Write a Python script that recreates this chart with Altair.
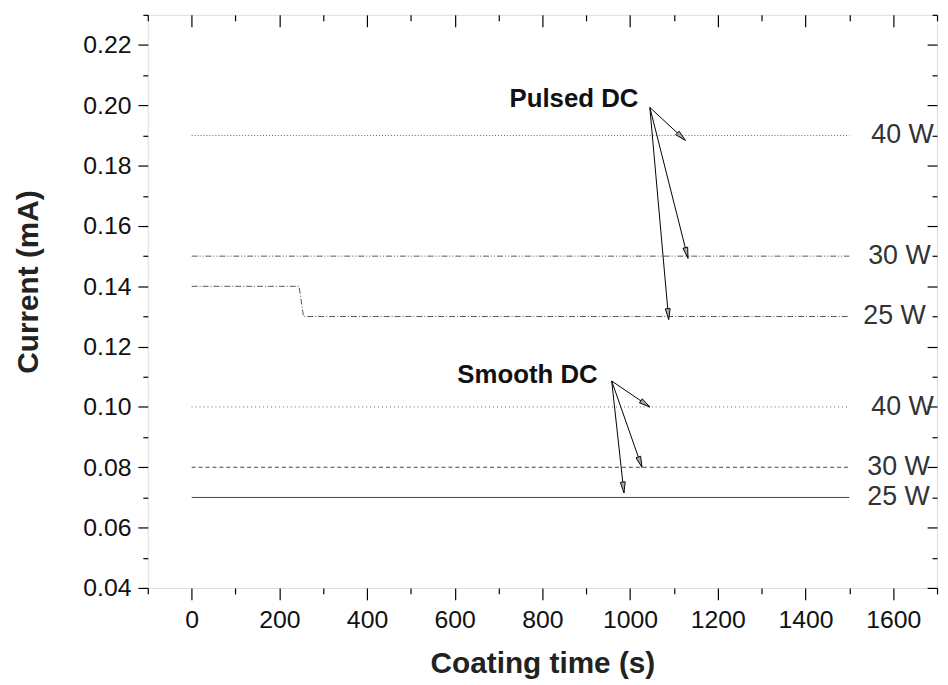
import math
import altair as alt
import pandas as pd

# ---------------- data ----------------
# Pulsed DC
p40_t = [0, 1500]
p40_i = [0.19, 0.19]
p30_t = [0, 1500]
p30_i = [0.15, 0.15]
p25_t = [0, 245, 255, 1500]
p25_i = [0.14, 0.14, 0.13, 0.13]
# Smooth DC
s40_t = [0, 1500]
s40_i = [0.10, 0.10]
s30_t = [0, 1500]
s30_i = [0.08, 0.08]
s25_t = [0, 1500]
s25_i = [0.07, 0.07]

# right-hand power labels
lab_text = ["40 W", "30 W", "25 W", "40 W", "30 W", "25 W"]
lab_t = [1550, 1543, 1532, 1550, 1541, 1541]
lab_i = [0.19, 0.15, 0.13, 0.10, 0.08, 0.07]

# group annotations
ann_text = ["Pulsed DC", "Smooth DC"]
ann_t = [725, 606]
ann_i = [0.1993, 0.108]

# arrows (start -> end)
arr_t1 = [1045, 1045, 1045, 958, 958, 958]
arr_i1 = [0.1993, 0.1993, 0.1993, 0.1086, 0.1086, 0.1086]
arr_t2 = [1126, 1132, 1088, 1045, 1027, 986]
arr_i2 = [0.1884, 0.1493, 0.129, 0.1000, 0.0800, 0.0715]

# axes
x_domain = [-100, 1700]
y_domain = [0.04, 0.23]
x_major = [0, 200, 400, 600, 800, 1000, 1200, 1400, 1600]
x_minor = [-100, 100, 300, 500, 700, 900, 1100, 1300, 1500, 1700]
y_major = [0.04, 0.06, 0.08, 0.10, 0.12, 0.14, 0.16, 0.18, 0.20, 0.22]
y_minor = [0.05, 0.07, 0.09, 0.11, 0.13, 0.15, 0.17, 0.19, 0.21, 0.23]

# ---------------- layout ----------------
W, H = 796, 578
xs = alt.Scale(domain=x_domain, nice=False, zero=False)
ys = alt.Scale(domain=y_domain, nice=False, zero=False)
LABEL_FONT = "Liberation Sans"
TITLE_FONT = "Liberation Sans"


def line_layer(t, i, color, dash=None):
    df = pd.DataFrame({"t": t, "i": i})
    kw = dict(color=color, strokeWidth=1)
    if dash is not None:
        kw["strokeDash"] = dash
    return alt.Chart(df).mark_line(**kw).encode(
        x=alt.X("t:Q", scale=xs, axis=None),
        y=alt.Y("i:Q", scale=ys, axis=None),
    )


lines = [
    line_layer(p40_t, p40_i, "#666", [1, 2]),
    line_layer(p30_t, p30_i, "#555", [6, 2, 1, 2, 1, 2]),
    line_layer(p25_t, p25_i, "#555", [6, 2, 1, 2]),
    line_layer(s40_t, s40_i, "#666", [1, 3]),
    line_layer(s30_t, s30_i, "#444", [4, 3]),
    line_layer(s25_t, s25_i, "#444"),
]

common_tick = dict(domain=False, grid=False, tickColor="black", tickWidth=1.2)

ax_x_main = alt.Axis(orient="bottom", values=x_major, format="d", tickSize=12,
                     labelFont=LABEL_FONT, labelFontSize=25, labelColor="#111",
                     labelPadding=8, labelOverlap=False, labelFlush=False,
                     title="Coating time (s)", titleFont=TITLE_FONT,
                     titleFontSize=30, titleFontWeight="bold", titleColor="#222",
                     titleY=85, titleBaseline="alphabetic", **common_tick)
ax_x_minor = alt.Axis(orient="bottom", values=x_minor, labels=False, tickSize=6,
                      title=None, **common_tick)
ax_x_top = alt.Axis(orient="bottom", offset=-H, values=x_major, labels=False,
                    tickSize=12, title=None, **common_tick)
ax_x_top_minor = alt.Axis(orient="bottom", offset=-H, values=x_minor, labels=False,
                          tickSize=6, title=None, **common_tick)

ax_y_main = alt.Axis(orient="left", values=y_major, format=".2f", tickSize=10,
                     labelFont=LABEL_FONT, labelFontSize=25, labelColor="#111",
                     labelPadding=7, labelOverlap=False, labelFlush=False,
                     title="Current (mA)", titleFont=TITLE_FONT,
                     titleFontSize=30, titleFontWeight="bold", titleColor="#222",
                     titleAngle=270, titleX=-111, titleY=269,
                     titleAlign="center", titleBaseline="alphabetic", **common_tick)
ax_y_minor = alt.Axis(orient="left", values=y_minor, labels=False, tickSize=5,
                      title=None, **common_tick)
ax_y_right = alt.Axis(orient="left", offset=-W, values=y_major, labels=False,
                      tickSize=10, title=None, **common_tick)
ax_y_right_minor = alt.Axis(orient="left", offset=-W, values=y_minor, labels=False,
                            tickSize=5, title=None, **common_tick)

dummy = pd.DataFrame({"t": [0], "i": [0.1]})


def axis_layer(xa, ya):
    return alt.Chart(dummy).mark_point(opacity=0).encode(
        x=alt.X("t:Q", scale=xs, axis=xa),
        y=alt.Y("i:Q", scale=ys, axis=ya),
    )


axes = [
    axis_layer(ax_x_main, ax_y_main),
    axis_layer(ax_x_minor, ax_y_minor),
    axis_layer(ax_x_top, ax_y_right),
    axis_layer(ax_x_top_minor, ax_y_right_minor),
]

labels = alt.Chart(pd.DataFrame({"t": lab_t, "i": lab_i, "s": lab_text})).mark_text(
    align="left", baseline="middle", font=LABEL_FONT, fontSize=27, color="#333"
).encode(
    x=alt.X("t:Q", scale=xs, axis=None),
    y=alt.Y("i:Q", scale=ys, axis=None),
    text="s:N",
)

annots = alt.Chart(pd.DataFrame({"t": ann_t, "i": ann_i, "s": ann_text})).mark_text(
    align="left", baseline="alphabetic", font=LABEL_FONT, fontSize=26,
    fontWeight="bold", color="#111"
).encode(
    x=alt.X("t:Q", scale=xs, axis=None),
    y=alt.Y("i:Q", scale=ys, axis=None),
    text="s:N",
)

# arrow head angles from the pixel direction of each arrow
kx = W / (x_domain[1] - x_domain[0])
ky = H / (y_domain[1] - y_domain[0])
angles = []
for a, b, c, d in zip(arr_t1, arr_i1, arr_t2, arr_i2):
    dxp = (c - a) * kx
    dyp = -(d - b) * ky
    angles.append(math.degrees(math.atan2(dxp, -dyp)) % 360)

arr_df = pd.DataFrame({"t1": arr_t1, "i1": arr_i1, "t2": arr_t2, "i2": arr_i2,
                       "ang": angles})

arrow_lines = alt.Chart(arr_df).mark_rule(color="black", strokeWidth=1).encode(
    x=alt.X("t1:Q", scale=xs, axis=None),
    y=alt.Y("i1:Q", scale=ys, axis=None),
    x2="t2:Q",
    y2="i2:Q",
)

arrow_heads = alt.Chart(arr_df).mark_point(
    shape="M0,0L-0.45,2L0.45,2Z", size=120, filled=True, fill="#aaa",
    stroke="black", strokeWidth=0.9, opacity=1
).encode(
    x=alt.X("t2:Q", scale=xs, axis=None),
    y=alt.Y("i2:Q", scale=ys, axis=None),
    angle=alt.Angle("ang:Q", scale=None),
)

chart = alt.layer(
    *axes, *lines, arrow_lines, arrow_heads, labels, annots
).resolve_axis(
    x="independent", y="independent"
).properties(
    width=W, height=H, autosize="none",
    padding={"left": 141, "top": 4, "right": 3, "bottom": 95},
).configure_view(
    stroke="black", strokeWidth=1.5
).configure(background="white")

chart.save("out.html", embed_options={"renderer": "svg", "actions": False})
